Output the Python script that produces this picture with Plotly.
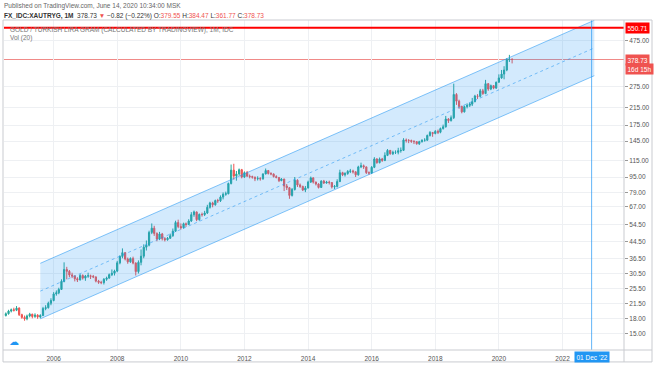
import numpy as np
import pandas as pd
import plotly.graph_objects as go

# ---------------- data (monthly XAU/TRY gram candles) ----------------
start_month = "2004-07-01"
first_open = 18.6

close = [
    19.0, 19.6, 19.9, 19.8, 20.3, 18.8,                                   # 2004 Jul-Dec
    18.2, 17.9, 18.5, 18.9, 18.4, 18.7, 18.3, 18.6, 20.2, 20.4, 21.5, 22.2,  # 2005
    24.0, 24.3, 25.3, 27.8, 32.0, 31.3, 30.0, 29.6, 28.7, 28.3, 29.8, 28.9,  # 2006
    29.6, 29.7, 29.5, 29.3, 27.9, 27.5, 27.4, 28.5, 28.9, 30.1, 30.6, 31.4,  # 2007
    34.6, 37.3, 39.0, 36.2, 35.0, 36.4, 34.5, 31.2, 34.8, 37.4, 41.6, 42.6,  # 2008
    49.5, 52.0, 48.9, 45.8, 48.6, 46.0, 45.4, 46.2, 47.6, 50.2, 55.6, 53.0,  # 2009
    52.3, 54.8, 54.3, 56.6, 61.0, 63.0, 57.5, 61.2, 61.0, 62.2, 66.5, 70.0,  # 2010
    68.5, 72.0, 71.8, 75.0, 77.5, 78.0, 88.0, 103.0, 96.0, 98.5, 103.5, 95.0,  # 2011
    100.0, 96.0, 95.5, 94.8, 93.0, 93.4, 93.0, 98.5, 102.5, 99.0, 98.5, 95.5,  # 2012
    94.5, 91.0, 92.8, 85.5, 83.8, 76.5, 82.0, 91.5, 86.5, 85.0, 81.5, 83.5,  # 2013
    89.5, 94.0, 89.5, 87.5, 84.0, 90.5, 88.5, 89.5, 89.0, 84.5, 85.0, 90.0,  # 2014
    100.0, 97.5, 99.0, 101.5, 102.0, 101.0, 97.5, 107.0, 108.5, 107.0, 100.0, 99.5,  # 2015
    106.5, 117.5, 112.5, 117.5, 115.5, 122.5, 130.0, 125.0, 127.0, 127.0, 129.5, 130.0,  # 2016
    147.0, 146.0, 146.0, 144.5, 144.0, 140.5, 144.0, 146.5, 146.5, 155.0, 160.5, 158.5,  # 2017
    162.5, 161.0, 168.0, 171.5, 188.0, 184.5, 191.0, 251.0, 232.0, 218.0, 204.5, 217.5,  # 2018
    221.0, 224.0, 230.5, 246.5, 245.5, 262.0, 253.5, 285.0, 267.5, 278.5, 270.5, 290.0,  # 2019
    305.0, 319.0, 334.5, 378.0, 379.55, 378.73,                             # 2020 Jan-Jun
]
high = [
    19.3, 19.9, 20.2, 20.4, 20.8, 20.5,
    19.0, 18.6, 18.8, 19.2, 19.0, 19.1, 18.9, 18.9, 20.6, 21.0, 21.9, 22.8,
    24.5, 25.0, 25.8, 28.5, 34.8, 33.0, 31.8, 30.8, 29.9, 29.2, 30.3, 30.2,
    30.0, 30.8, 30.1, 30.0, 29.5, 28.3, 28.0, 28.9, 29.4, 30.5, 32.0, 31.9,
    35.4, 37.8, 41.0, 39.3, 36.8, 36.9, 37.2, 34.8, 35.6, 40.5, 43.0, 45.0,
    50.5, 55.0, 53.5, 49.5, 49.8, 49.2, 46.8, 46.9, 48.8, 51.8, 56.8, 57.5,
    55.0, 55.5, 55.6, 57.8, 62.8, 64.0, 63.2, 61.8, 62.5, 63.8, 68.5, 71.0,
    71.0, 72.8, 73.5, 76.5, 79.2, 80.0, 89.0, 110.0, 111.0, 102.0, 105.0, 104.5,
    101.5, 102.0, 97.8, 96.5, 95.5, 95.8, 94.8, 99.2, 105.0, 103.2, 100.5, 99.0,
    97.0, 95.0, 93.8, 93.0, 87.5, 84.5, 83.5, 95.0, 92.5, 88.0, 85.8, 85.5,
    91.0, 95.5, 94.8, 90.0, 88.2, 91.5, 91.8, 90.8, 91.0, 89.5, 86.5, 92.5,
    103.5, 101.0, 100.5, 103.0, 104.5, 103.5, 101.5, 108.5, 112.5, 110.0, 107.5, 101.5,
    108.0, 120.0, 118.5, 119.5, 119.0, 127.0, 132.0, 130.5, 129.5, 130.0, 134.0, 134.5,
    150.0, 149.5, 148.5, 147.5, 146.5, 145.0, 145.5, 148.0, 150.0, 156.5, 163.0, 161.0,
    165.0, 166.0, 170.0, 176.0, 195.0, 190.0, 196.0, 285.0, 255.0, 236.0, 220.0, 220.0,
    226.0, 228.0, 241.0, 250.0, 252.0, 268.0, 268.0, 298.0, 287.0, 282.0, 280.0, 292.0,
    318.0, 335.0, 350.0, 385.0, 400.0, 384.47,
]
low = [
    18.4, 18.8, 19.3, 19.5, 19.6, 18.5,
    17.9, 17.5, 17.6, 18.2, 18.0, 18.1, 17.9, 18.0, 18.5, 19.8, 20.2, 21.0,
    22.0, 23.5, 23.9, 25.2, 27.5, 28.5, 29.2, 28.9, 27.8, 27.6, 28.1, 28.4,
    28.0, 29.0, 28.6, 28.9, 27.5, 27.0, 26.9, 26.8, 28.0, 28.7, 29.6, 29.8,
    31.0, 34.0, 36.5, 35.6, 34.2, 34.6, 34.0, 29.8, 30.5, 33.6, 36.5, 40.0,
    42.0, 48.5, 47.5, 44.6, 45.2, 45.0, 44.5, 44.9, 45.8, 47.0, 49.8, 52.0,
    51.2, 51.8, 52.8, 54.0, 56.0, 59.5, 56.5, 56.8, 59.6, 60.0, 61.5, 65.5,
    66.5, 67.8, 70.0, 70.8, 73.0, 76.2, 77.5, 87.0, 92.0, 91.0, 96.5, 93.5,
    94.0, 95.0, 93.5, 93.2, 90.5, 91.2, 91.0, 92.0, 98.0, 97.8, 97.0, 94.5,
    93.5, 89.5, 90.5, 80.5, 81.5, 73.5, 75.5, 81.0, 84.5, 83.5, 80.5, 79.5,
    83.0, 88.5, 88.0, 86.0, 83.0, 83.5, 87.5, 87.8, 87.0, 83.0, 82.5, 84.0,
    89.5, 96.0, 95.5, 97.5, 99.5, 99.0, 95.0, 96.5, 105.5, 104.5, 98.5, 97.5,
    98.5, 105.5, 111.0, 111.5, 113.5, 114.5, 121.5, 123.5, 123.0, 124.5, 124.0, 126.5,
    129.0, 142.5, 141.5, 142.0, 140.0, 139.0, 138.5, 142.5, 144.0, 145.5, 153.0, 152.5,
    157.0, 157.5, 159.0, 166.0, 170.0, 179.5, 182.5, 188.0, 222.0, 212.0, 201.0, 203.0,
    213.0, 216.5, 219.0, 229.0, 238.0, 242.5, 250.0, 252.0, 262.0, 264.0, 267.0, 268.0,
    288.0, 302.0, 300.0, 330.0, 368.0, 361.77,
]

y_tick_values = [15.00, 18.00, 21.50, 25.50, 30.50, 36.50, 44.50, 54.50, 67.00,
                 79.00, 95.00, 115.00, 145.00, 175.00, 215.00, 275.00, 475.00]
x_tick_years = [2006, 2008, 2010, 2012, 2014, 2016, 2018, 2020, 2022]

# regression channel (start / end)
channel_dates = ["2005-08-01", "2023-01-01"]
channel_upper = [34.4, 601.0]
channel_mid = [24.8, 434.0]
channel_lower = [17.9, 313.0]

alert_level = 550.71
last_price = 378.73
marker_date = "2022-12-01"
marker_label = "01 Dec '22"
countdown_label = "16d 15h"

header1 = "Published on TradingView.com, June 14, 2020 10:34:00 MSK"
symbol = "FX_IDC:XAUTRYG, 1M"
quote = dict(last="378.73", chg="\u22120.82 (\u22120.22%)", o="379.55", h="384.47", l="361.77", c="378.73")
legend_title = "GOLD / TURKISH LIRA GRAM (CALCULATED BY TRADINGVIEW), 1M, IDC"
vol_title = "Vol (20)"

# ---------------- build ----------------
dates = pd.date_range(start_month, periods=len(close), freq="MS")
opens = [first_open] + close[:-1]

W, H = 654, 366
ML, MR, MT, MB = 4, 30, 20, 14
PW, PH = W - ML - MR, H - MT - MB


def px_x(p):
    return (p - ML) / PW


def px_y(p):
    return (H - MB - p) / PH


UP = "#26a69a"
DN = "#ef5350"
BLUE = "#2196f3"
FONT = "Liberation Sans, Arial, sans-serif"

fig = go.Figure()

# channel fill
fig.add_trace(go.Scatter(
    x=[channel_dates[0], channel_dates[1], channel_dates[1], channel_dates[0], channel_dates[0]],
    y=[channel_upper[0], channel_upper[1], channel_lower[1], channel_lower[0], channel_upper[0]],
    fill="toself", fillcolor="rgba(33,150,243,0.2)",
    line=dict(width=0), mode="lines", hoverinfo="skip", showlegend=False))
for ys, dash in ((channel_upper, "solid"), (channel_lower, "solid"), (channel_mid, "3px,3px")):
    fig.add_trace(go.Scatter(
        x=channel_dates, y=ys, mode="lines",
        line=dict(color="rgba(33,150,243,0.55)", width=1, dash=dash),
        hoverinfo="skip", showlegend=False))

x_range = ["2004-06-10", "2023-12-08"]

# last price line (drawn as a shape spanning the plot width)
fig.add_shape(type="line", xref="paper", yref="y", x0=0, x1=1,
              y0=last_price, y1=last_price, layer="below",
              line=dict(color="#f08a88", width=1))

fig.add_trace(go.Candlestick(
    x=dates, open=opens, high=high, low=low, close=close,
    increasing=dict(line=dict(color=UP, width=1), fillcolor=UP),
    decreasing=dict(line=dict(color=DN, width=1), fillcolor=DN),
    whiskerwidth=0, hoverinfo="skip", showlegend=False))

# alert line
fig.add_trace(go.Scatter(x=x_range, y=[alert_level, alert_level], mode="lines",
                         line=dict(color="#ff0000", width=2),
                         hoverinfo="skip", showlegend=False))

# vertical marker line
fig.add_shape(type="line", xref="x", yref="paper", x0=marker_date, x1=marker_date,
              y0=0, y1=1, line=dict(color="rgba(33,150,243,0.7)", width=1))

# frame
frame_col = "#c9cbd0"
fig.add_shape(type="rect", xref="paper", yref="paper",
              x0=px_x(3), x1=px_x(652), y0=px_y(364), y1=px_y(20),
              line=dict(color=frame_col, width=1))
fig.add_shape(type="line", xref="paper", yref="paper", x0=1, x1=1,
              y0=px_y(364), y1=px_y(20), line=dict(color=frame_col, width=1))
fig.add_shape(type="line", xref="paper", yref="paper", x0=px_x(3), x1=px_x(652),
              y0=0, y1=0, line=dict(color=frame_col, width=1))

ann = []
ann.append(dict(text=header1, x=px_x(2), y=px_y(6), xref="paper", yref="paper",
                xanchor="left", yanchor="middle", showarrow=False,
                font=dict(size=6.5, color="#666", family=FONT)))
line2 = (f"<b>{symbol}</b>  {quote['last']} <span style='color:{DN}'>\u25bc</span> {quote['chg']} "
         f"O:<span style='color:{DN}'>{quote['o']}</span> H:<span style='color:{DN}'>{quote['h']}</span> "
         f"L:<span style='color:{DN}'>{quote['l']}</span> C:<span style='color:{DN}'>{quote['c']}</span>")
ann.append(dict(text=line2, x=px_x(2), y=px_y(15.5), xref="paper", yref="paper",
                xanchor="left", yanchor="middle", showarrow=False,
                font=dict(size=6.5, color="#333", family=FONT)))
ann.append(dict(text=legend_title, x=px_x(8), y=px_y(30), xref="paper", yref="paper",
                xanchor="left", yanchor="middle", showarrow=False,
                font=dict(size=6.5, color="#777", family=FONT)))
ann.append(dict(text=vol_title, x=px_x(8), y=px_y(38.5), xref="paper", yref="paper",
                xanchor="left", yanchor="middle", showarrow=False,
                font=dict(size=6.5, color="#777", family=FONT)))
ann.append(dict(text="\u2601", x=px_x(14), y=px_y(343), xref="paper", yref="paper",
                xanchor="center", yanchor="middle", showarrow=False,
                font=dict(size=10, color=BLUE, family="DejaVu Sans")))

# price labels on the axis
for val, txt, bg, shift in ((alert_level, f"{alert_level:.2f}", "#ff0000", 0),
                            (last_price, f"{last_price:.2f}", DN, 0),
                            (last_price, countdown_label, DN, -9)):
    ann.append(dict(text=txt, x=1, y=np.log10(val), xref="paper", yref="y",
                    xanchor="left", yanchor="middle", xshift=1, yshift=shift,
                    showarrow=False, bgcolor=bg, borderpad=1.5,
                    font=dict(size=6.5, color="white", family=FONT)))
# date label on time axis
ann.append(dict(text=marker_label, x=marker_date, y=px_y(359), xref="x", yref="paper",
                xanchor="center", yanchor="middle", showarrow=False, bgcolor=BLUE,
                borderpad=1.5, font=dict(size=6.5, color="white", family=FONT)))

grid = "#eef0f3"
fig.update_layout(
    width=W, height=H,
    margin=dict(l=ML, r=MR, t=MT, b=MB),
    paper_bgcolor="white", plot_bgcolor="white",
    font=dict(family=FONT, size=6.5, color="#555"),
    showlegend=False,
    annotations=ann,
    xaxis=dict(
        type="date", range=x_range,
        tickvals=[f"{y}-01-01" for y in x_tick_years],
        ticktext=[str(y) for y in x_tick_years],
        showgrid=True, gridcolor=grid, gridwidth=1,
        zeroline=False, showline=False, ticks="",
        ticklabelstandoff=3,
        tickfont=dict(size=6.5, color="#555"),
        rangeslider=dict(visible=False), fixedrange=True),
    yaxis=dict(
        type="log", range=[np.log10(12.4), np.log10(603)], side="right",
        tickvals=y_tick_values, ticktext=[f"{v:.2f}" for v in y_tick_values],
        showgrid=True, gridcolor=grid, gridwidth=1,
        zeroline=False, showline=False,
        ticks="outside", ticklen=3, tickcolor="#999",
        tickfont=dict(size=6.5, color="#555"), fixedrange=True),
)

fig.write_html("out.html")
